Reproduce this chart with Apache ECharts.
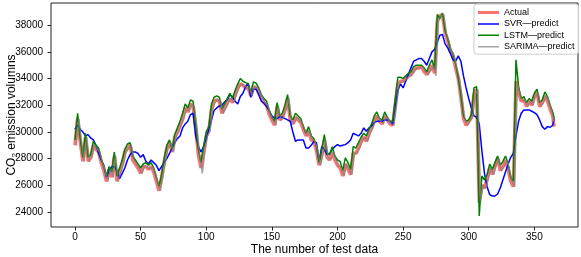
<!DOCTYPE html>
<html>
<head>
<meta charset="utf-8">
<script src="https://cdn.jsdelivr.net/npm/echarts@6/dist/echarts.min.js"></script>
<style>
html, body { margin: 0; padding: 0; background: #fff; }
#chart { width: 581px; height: 257px; }
</style>
</head>
<body>
<div id="chart"></div>
<script>
// tick labels
var xTicks = [0, 50, 100, 150, 200, 250, 300, 350];
var yTicks = [24000, 26000, 28000, 30000, 32000, 34000, 36000, 38000];

// sample positions (test data number)
var evenIdx = Array.from({ length: 183 }, function (_, k) { return 2 * k; }).concat([365]);
var oddIdx = Array.from({ length: 183 }, function (_, k) { return 2 * k + 1; });

// Actual (even positions 0..364, then 365)
var actual = [
    29000, 31000, 29300, 27800, 29600, 27800, 28100, 29000, 28700, 28500,
    27700, 27100, 26300, 27200, 26600, 28200, 26300, 27000, 27600, 28500,
    28800, 29000, 27900, 27600, 27300, 26900, 27400, 27400, 27200, 27400,
    27000, 26300, 25600, 26600, 27800, 28800, 29200, 28500, 29600, 30000,
    30500, 31000, 31800, 31500, 32100, 31900, 30300, 28300, 27300, 28500,
    29700, 30100, 31700, 32300, 32400, 32300, 31400, 31800, 32200, 32500,
    32200, 32800, 33300, 33600, 33500, 33300, 33300, 32700, 33400, 33300,
    33000, 32500, 32200, 32000, 31300, 30900, 30500, 31900, 30900, 31100,
    31700, 32500, 30900, 30600, 31100, 30900, 30700, 30200, 29700, 30100,
    29400, 29300, 28600, 27500, 28300, 29400, 28100, 27900, 28500, 27900,
    27500, 27300, 26700, 27600, 27200, 26800, 28400, 28400, 28800, 29300,
    29600, 29300, 29900, 30300, 30900, 31200, 30800, 30600, 31200, 30900,
    30600, 30500, 32000, 33600, 33800, 33800, 34000, 34200, 34300, 34600,
    34800, 34800, 34900, 34500, 34300, 34600, 35000, 34400, 38300, 38700,
    38800, 37400, 36800, 36000, 35700, 34800, 34000, 32600, 31000, 30500,
    30800, 31100, 32800, 33200, 24700, 26000, 25800, 26500, 27300, 26800,
    27500, 28000, 27100, 27400, 27900, 27200, 26300, 25900, 33800, 32900,
    32300, 32400, 31900, 32300, 32000, 32700, 32900, 31900, 32200, 32700,
    32300, 31700, 31200,
    30400
];

// SVR-predict (even positions 0..364, then 365)
var svr = [
    30200, 30500, 30200, 30000, 29700, 29800, 29550, 29400, 29000, 28400,
    27900, 27500, 26600, 27100, 27400, 27400, 27100, 26500, 26900, 27300,
    27900, 28300, 28500, 28500, 28400, 28100, 28300, 27800, 27600, 27900,
    27700, 27500, 27100, 27400, 27700, 28000, 28400, 28800, 29200, 29500,
    29700, 30300, 30600, 30800, 31300, 31400, 29700, 28900, 28500, 28900,
    29500, 30200, 30900, 31600, 31800, 31950, 32000, 32250, 32400, 32800,
    32650, 32300, 32100, 32650, 32900, 33400, 33650, 32600, 33200, 33200,
    32800, 32300, 32150, 31900, 31600, 31200, 31050, 31000, 31150, 31100,
    31000, 30900, 30800, 30000, 29300, 29400, 29400, 29400, 28800, 28800,
    29000, 29300, 29200, 27800, 28900, 28700, 28300, 28400, 28700, 28900,
    29050, 28950, 29000, 29050, 29200, 29400, 29900, 29800, 29700, 29900,
    30300, 30050, 30300, 30450, 30700, 30800, 30800, 30800, 30900, 30900,
    30800, 30550, 31900, 33100, 33600, 33300, 33800, 34300, 34800, 35300,
    35400, 35500, 35500, 35300, 35000, 35500, 36000, 36200, 36700, 37250,
    37300, 36600, 36300, 35900, 35400, 35300, 35700, 35300, 34200, 33300,
    32500, 31800, 31200, 31100, 30600, 28600, 26900, 25900, 25300, 25200,
    25200, 25350, 25800, 26400, 27000, 27600, 28100, 28400, 29700, 30800,
    31400, 31650, 31650, 31650, 31550, 31450, 31300, 30900, 30400, 30200,
    30400, 30350, 30500,
    31000
];

// LSTM-predict (even positions 0..364, then 365)
var lstm = [
    29400, 31400, 29500, 28100, 29900, 28100, 28300, 29300, 29000, 28800,
    28000, 27400, 26700, 27400, 27000, 28500, 26700, 27300, 27900, 28700,
    29100, 29200, 28200, 27900, 27600, 27300, 27600, 27700, 27500, 27700,
    27300, 26600, 25900, 26800, 28000, 29000, 29400, 28700, 29800, 30300,
    30800, 31400, 32100, 31800, 32400, 32300, 30600, 28700, 27700, 28900,
    30000, 30400, 32100, 32600, 32700, 32600, 31700, 32100, 32500, 32900,
    32500, 33100, 33600, 34000, 33800, 33700, 33600, 33000, 33750, 33650,
    33300, 32800, 32500, 32300, 31600, 31100, 30800, 32200, 31200, 31400,
    32000, 32800, 31200, 30900, 31400, 31200, 31000, 30400, 29900, 30400,
    29700, 29500, 28900, 27700, 28700, 29800, 28400, 28300, 28900, 28200,
    27900, 27800, 27100, 28050, 27700, 27200, 28900, 28800, 29200, 29600,
    29900, 29700, 30200, 30600, 31200, 31500, 31000, 30900, 31500, 31100,
    30800, 30800, 32500, 34100, 34100, 34000, 34200, 34400, 34500, 34900,
    35000, 35000, 35000, 34800, 34500, 35000, 35400, 34700, 38800, 38500,
    38900, 37600, 37000, 36200, 35900, 35100, 34100, 32800, 31200, 30800,
    30900, 31300, 33300, 33400, 23700, 26700, 26400, 26800, 27600, 27200,
    27700, 28200, 27500, 27800, 28200, 27600, 26600, 26300, 35400, 33400,
    32500, 32650, 32200, 32500, 32300, 32900, 33200, 32200, 32400, 33000,
    32650, 32000, 31500,
    31000
];

// SARIMA-predict (odd positions 1..365)
var sarima = [
    29000, 31000, 29300, 27800, 29600, 27800, 28100, 29000, 28700, 28500,
    27700, 27100, 26300, 27200, 26600, 28200, 26300, 27000, 27600, 28500,
    28800, 29000, 27900, 27600, 27300, 26900, 27400, 27400, 27200, 27400,
    27000, 26300, 25600, 26600, 27800, 28800, 29200, 28500, 29600, 30000,
    30500, 31000, 31800, 31500, 32100, 31900, 30300, 28300, 26900, 28500,
    29700, 30100, 31700, 32300, 32400, 32300, 31400, 31800, 32200, 32500,
    32200, 32800, 33300, 33600, 33500, 33300, 33300, 32700, 33400, 33300,
    33000, 32500, 32200, 32000, 31300, 30900, 30500, 31900, 30900, 31100,
    31700, 32500, 30900, 30600, 31100, 30900, 30700, 30200, 29700, 30100,
    29400, 29300, 28600, 27500, 28300, 29400, 28100, 27900, 28500, 27900,
    27500, 27300, 26700, 27600, 27200, 26800, 28400, 28400, 28800, 29300,
    29600, 29300, 29900, 30300, 30900, 31200, 30800, 30600, 31200, 30900,
    30600, 30500, 32000, 33600, 33800, 33800, 34000, 34200, 34300, 34600,
    34800, 34800, 34900, 34500, 34300, 34600, 35000, 34200, 38300, 38700,
    38800, 37400, 36800, 36000, 35700, 34800, 34000, 32600, 31000, 30500,
    30800, 31100, 32800, 33200, 24800, 26000, 25800, 26500, 27300, 26800,
    27500, 28000, 27100, 27400, 27900, 27200, 26300, 25900, 33600, 32900,
    32300, 32400, 31900, 32300, 32000, 32700, 32900, 31900, 32200, 32700,
    32300, 31700, 30700
];

function pairs(idx, vals) {
    return idx.map(function (x, k) { return [x, vals[k]]; });
}

var font = 'Liberation Sans, Arial, sans-serif';
// legend line glyphs: bbox 0..21 x 0..8, filled bar in the middle
var thickLine = 'path://M0,0L0.01,0M0,8L0.01,8M0,2.4L21,2.4L21,5.6L0,5.6Z';
var thinLine = 'path://M0,0L0.01,0M0,8L0.01,8M0,3.25L21,3.25L21,4.75L0,4.75Z';

var chart = echarts.init(document.getElementById('chart'), null, { renderer: 'canvas' });
chart.setOption({
    animation: false,
    backgroundColor: '#fff',
    textStyle: { fontFamily: font },
    grid: {
        left: 51, right: 3, top: 3, bottom: 30,
        show: true, borderColor: '#222', borderWidth: 1,
        outerBoundsMode: 'none'
    },
    legend: {
        orient: 'vertical',
        left: 474, top: 4,
        padding: [4, 4, 3, 4],
        itemWidth: 21, itemHeight: 8, itemGap: 2.4,
        borderColor: '#ccc', borderWidth: 1, borderRadius: 3,
        backgroundColor: 'rgba(255,255,255,0.85)',
        textStyle: { fontSize: 9, color: '#000', fontFamily: font },
        data: [
            { name: 'Actual', icon: thickLine },
            { name: 'SVR\u2014predict', icon: thinLine },
            { name: 'LSTM\u2014predict', icon: thinLine },
            { name: 'SARIMA\u2014predict', icon: thinLine }
        ]
    },
    xAxis: {
        type: 'value',
        min: -18.25, max: 383.25,
        name: 'The number of test data',
        nameLocation: 'middle', nameGap: 17, nameMoveOverlap: false,
        nameTextStyle: { fontSize: 12, color: '#000', fontFamily: font },
        splitLine: { show: false },
        axisLine: { show: false, onZero: false },
        axisTick: { customValues: xTicks, length: 3.5, lineStyle: { color: '#222' } },
        axisLabel: { customValues: xTicks, fontSize: 10, color: '#000', margin: 5, fontFamily: font }
    },
    yAxis: {
        type: 'value',
        min: 22877, max: 39663,
        name: 'CO{sub|2} emission volumns',
        nameLocation: 'middle', nameGap: 32, nameRotate: 90, nameMoveOverlap: false,
        nameTextStyle: {
            fontSize: 12, color: '#000', fontFamily: font,
            rich: { sub: { fontSize: 8, fontFamily: font, color: '#000', padding: [6, 0, 0, 0] } }
        },
        splitLine: { show: false },
        axisLine: { show: false, onZero: false },
        axisTick: { customValues: yTicks, length: 3.5, lineStyle: { color: '#222' } },
        axisLabel: {
            customValues: yTicks, fontSize: 10, color: '#000', margin: 8, fontFamily: font,
            formatter: function (v) { return String(v); }
        }
    },
    series: [
        {
            name: 'Actual', type: 'line', symbol: 'none',
            data: pairs(evenIdx, actual),
            lineStyle: { color: '#ff0000', width: 3.5, opacity: 0.55 },
            itemStyle: { color: '#ff0000', opacity: 0.55 }
        },
        {
            name: 'SVR\u2014predict', type: 'line', symbol: 'none',
            data: pairs(evenIdx, svr),
            lineStyle: { color: '#0000ff', width: 1.5 },
            itemStyle: { color: '#0000ff' }
        },
        {
            name: 'LSTM\u2014predict', type: 'line', symbol: 'none',
            data: pairs(evenIdx, lstm),
            lineStyle: { color: '#008000', width: 1.5 },
            itemStyle: { color: '#008000' }
        },
        {
            name: 'SARIMA\u2014predict', type: 'line', symbol: 'none',
            data: pairs(oddIdx, sarima),
            lineStyle: { color: '#808080', width: 1.5, opacity: 0.7 },
            itemStyle: { color: '#808080', opacity: 0.7 }
        }
    ]
});
</script>
</body>
</html>
